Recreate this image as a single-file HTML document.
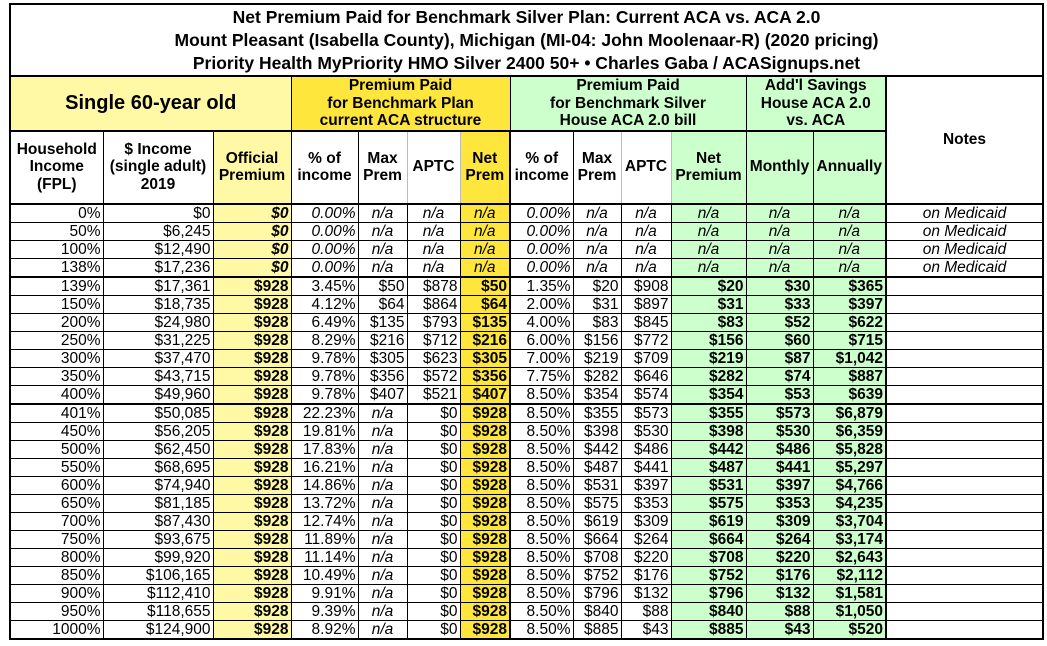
<!DOCTYPE html>
<html><head><meta charset="utf-8"><style>
html,body{margin:0;padding:0;background:#fff;width:1047px;height:646px;overflow:hidden}
table{position:absolute;left:9px;top:3px;border-collapse:collapse;table-layout:fixed;font-family:"Liberation Sans",Arial,sans-serif;font-size:15.5px;color:#000;border:2px solid #000}
td{border:1px solid #000;padding:0 2px;white-space:nowrap;overflow:hidden;line-height:17px}
.t td{font-weight:bold;font-size:17.5px;text-align:center;line-height:23px;border-bottom:2px solid #000}
.h td{font-weight:bold;font-size:15.5px;text-align:center;line-height:17.5px}
.h1 td{border-bottom:2px solid #000}
.h2 td{border-bottom:2px solid #000}
.d td{text-align:right;height:17px}
.d td:nth-child(3){background:#fff8a4;font-weight:bold}
.d td:nth-child(7){background:#ffe63c;font-weight:bold}
.d td:nth-child(11),.d td:nth-child(12),.d td:nth-child(13){background:#ccffcc;font-weight:bold}
.d td:nth-child(7),.d td:nth-child(13){border-right:2px solid #000}
.d td:nth-child(14){text-align:center;font-style:italic}
.m td:nth-child(3),.m td:nth-child(4),.m td:nth-child(8){font-style:italic}
.m td:nth-child(11),.m td:nth-child(12),.m td:nth-child(13),.m td:nth-child(7){font-weight:normal}
.c{text-align:center!important;font-style:italic}
.sep td{border-top:2px solid #000}
.ly{background:#fff8a4}.gy{background:#ffe63c}.gr{background:#ccffcc}
.g{border-right-color:#bbb!important;border-left-color:#bbb!important}
</style></head><body>
<table>
<colgroup><col style="width:93px"><col style="width:110px"><col style="width:78px"><col style="width:67px"><col style="width:49px"><col style="width:53px"><col style="width:50px"><col style="width:63px"><col style="width:48px"><col style="width:50px"><col style="width:75px"><col style="width:67px"><col style="width:73px"><col style="width:157px"></colgroup>
<tr class="t" style="height:72px"><td colspan="14">Net Premium Paid for Benchmark Silver Plan: Current ACA vs. ACA 2.0<br>Mount Pleasant (Isabella County), Michigan (MI-04: John Moolenaar-R) (2020 pricing)<br>Priority Health MyPriority HMO Silver 2400 50+ • Charles Gaba / ACASignups.net</td></tr>
<tr class="h h1" style="height:54px"><td colspan="3" class="ly" style="font-size:20px">Single 60-year old</td><td colspan="4" class="gy">Premium Paid<br>for Benchmark Plan<br>current ACA structure</td><td colspan="4" class="gr">Premium Paid<br>for Benchmark Silver<br>House ACA 2.0 bill</td><td colspan="2" class="gr" style="border-right:2px solid #000">Add'l Savings<br>House ACA 2.0<br>vs. ACA</td><td rowspan="2" style="vertical-align:middle;padding-bottom:0;border-bottom:2px solid #000">Notes</td></tr>
<tr class="h h2" style="height:73px"><td>Household<br>Income<br>(FPL)</td><td>$ Income<br>(single adult)<br>2019</td><td class="ly">Official<br>Premium</td><td>% of<br>income</td><td class="g">Max<br>Prem</td><td class="g">APTC</td><td class="gy" style="border-right:2px solid #000">Net<br>Prem</td><td>% of<br>income</td><td class="g">Max<br>Prem</td><td class="g">APTC</td><td class="gr">Net<br>Premium</td><td class="gr">Monthly</td><td class="gr" style="border-right:2px solid #000">Annually</td></tr>
<tr class="d m"><td>0%</td><td>$0</td><td>$0</td><td>0.00%</td><td class="c">n/a</td><td class="c">n/a</td><td class="c">n/a</td><td>0.00%</td><td class="c">n/a</td><td class="c">n/a</td><td class="c">n/a</td><td class="c">n/a</td><td class="c">n/a</td><td>on Medicaid</td></tr>
<tr class="d m"><td>50%</td><td>$6,245</td><td>$0</td><td>0.00%</td><td class="c">n/a</td><td class="c">n/a</td><td class="c">n/a</td><td>0.00%</td><td class="c">n/a</td><td class="c">n/a</td><td class="c">n/a</td><td class="c">n/a</td><td class="c">n/a</td><td>on Medicaid</td></tr>
<tr class="d m"><td>100%</td><td>$12,490</td><td>$0</td><td>0.00%</td><td class="c">n/a</td><td class="c">n/a</td><td class="c">n/a</td><td>0.00%</td><td class="c">n/a</td><td class="c">n/a</td><td class="c">n/a</td><td class="c">n/a</td><td class="c">n/a</td><td>on Medicaid</td></tr>
<tr class="d m"><td>138%</td><td>$17,236</td><td>$0</td><td>0.00%</td><td class="c">n/a</td><td class="c">n/a</td><td class="c">n/a</td><td>0.00%</td><td class="c">n/a</td><td class="c">n/a</td><td class="c">n/a</td><td class="c">n/a</td><td class="c">n/a</td><td>on Medicaid</td></tr>
<tr class="d sep"><td>139%</td><td>$17,361</td><td>$928</td><td>3.45%</td><td>$50</td><td>$878</td><td>$50</td><td>1.35%</td><td>$20</td><td>$908</td><td>$20</td><td>$30</td><td>$365</td><td></td></tr>
<tr class="d"><td>150%</td><td>$18,735</td><td>$928</td><td>4.12%</td><td>$64</td><td>$864</td><td>$64</td><td>2.00%</td><td>$31</td><td>$897</td><td>$31</td><td>$33</td><td>$397</td><td></td></tr>
<tr class="d"><td>200%</td><td>$24,980</td><td>$928</td><td>6.49%</td><td>$135</td><td>$793</td><td>$135</td><td>4.00%</td><td>$83</td><td>$845</td><td>$83</td><td>$52</td><td>$622</td><td></td></tr>
<tr class="d"><td>250%</td><td>$31,225</td><td>$928</td><td>8.29%</td><td>$216</td><td>$712</td><td>$216</td><td>6.00%</td><td>$156</td><td>$772</td><td>$156</td><td>$60</td><td>$715</td><td></td></tr>
<tr class="d"><td>300%</td><td>$37,470</td><td>$928</td><td>9.78%</td><td>$305</td><td>$623</td><td>$305</td><td>7.00%</td><td>$219</td><td>$709</td><td>$219</td><td>$87</td><td>$1,042</td><td></td></tr>
<tr class="d"><td>350%</td><td>$43,715</td><td>$928</td><td>9.78%</td><td>$356</td><td>$572</td><td>$356</td><td>7.75%</td><td>$282</td><td>$646</td><td>$282</td><td>$74</td><td>$887</td><td></td></tr>
<tr class="d"><td>400%</td><td>$49,960</td><td>$928</td><td>9.78%</td><td>$407</td><td>$521</td><td>$407</td><td>8.50%</td><td>$354</td><td>$574</td><td>$354</td><td>$53</td><td>$639</td><td></td></tr>
<tr class="d sep"><td>401%</td><td>$50,085</td><td>$928</td><td>22.23%</td><td class="c">n/a</td><td>$0</td><td>$928</td><td>8.50%</td><td>$355</td><td>$573</td><td>$355</td><td>$573</td><td>$6,879</td><td></td></tr>
<tr class="d"><td>450%</td><td>$56,205</td><td>$928</td><td>19.81%</td><td class="c">n/a</td><td>$0</td><td>$928</td><td>8.50%</td><td>$398</td><td>$530</td><td>$398</td><td>$530</td><td>$6,359</td><td></td></tr>
<tr class="d"><td>500%</td><td>$62,450</td><td>$928</td><td>17.83%</td><td class="c">n/a</td><td>$0</td><td>$928</td><td>8.50%</td><td>$442</td><td>$486</td><td>$442</td><td>$486</td><td>$5,828</td><td></td></tr>
<tr class="d"><td>550%</td><td>$68,695</td><td>$928</td><td>16.21%</td><td class="c">n/a</td><td>$0</td><td>$928</td><td>8.50%</td><td>$487</td><td>$441</td><td>$487</td><td>$441</td><td>$5,297</td><td></td></tr>
<tr class="d"><td>600%</td><td>$74,940</td><td>$928</td><td>14.86%</td><td class="c">n/a</td><td>$0</td><td>$928</td><td>8.50%</td><td>$531</td><td>$397</td><td>$531</td><td>$397</td><td>$4,766</td><td></td></tr>
<tr class="d"><td>650%</td><td>$81,185</td><td>$928</td><td>13.72%</td><td class="c">n/a</td><td>$0</td><td>$928</td><td>8.50%</td><td>$575</td><td>$353</td><td>$575</td><td>$353</td><td>$4,235</td><td></td></tr>
<tr class="d"><td>700%</td><td>$87,430</td><td>$928</td><td>12.74%</td><td class="c">n/a</td><td>$0</td><td>$928</td><td>8.50%</td><td>$619</td><td>$309</td><td>$619</td><td>$309</td><td>$3,704</td><td></td></tr>
<tr class="d"><td>750%</td><td>$93,675</td><td>$928</td><td>11.89%</td><td class="c">n/a</td><td>$0</td><td>$928</td><td>8.50%</td><td>$664</td><td>$264</td><td>$664</td><td>$264</td><td>$3,174</td><td></td></tr>
<tr class="d"><td>800%</td><td>$99,920</td><td>$928</td><td>11.14%</td><td class="c">n/a</td><td>$0</td><td>$928</td><td>8.50%</td><td>$708</td><td>$220</td><td>$708</td><td>$220</td><td>$2,643</td><td></td></tr>
<tr class="d"><td>850%</td><td>$106,165</td><td>$928</td><td>10.49%</td><td class="c">n/a</td><td>$0</td><td>$928</td><td>8.50%</td><td>$752</td><td>$176</td><td>$752</td><td>$176</td><td>$2,112</td><td></td></tr>
<tr class="d"><td>900%</td><td>$112,410</td><td>$928</td><td>9.91%</td><td class="c">n/a</td><td>$0</td><td>$928</td><td>8.50%</td><td>$796</td><td>$132</td><td>$796</td><td>$132</td><td>$1,581</td><td></td></tr>
<tr class="d"><td>950%</td><td>$118,655</td><td>$928</td><td>9.39%</td><td class="c">n/a</td><td>$0</td><td>$928</td><td>8.50%</td><td>$840</td><td>$88</td><td>$840</td><td>$88</td><td>$1,050</td><td></td></tr>
<tr class="d"><td>1000%</td><td>$124,900</td><td>$928</td><td>8.92%</td><td class="c">n/a</td><td>$0</td><td>$928</td><td>8.50%</td><td>$885</td><td>$43</td><td>$885</td><td>$43</td><td>$520</td><td></td></tr>
</table>
</body></html>
